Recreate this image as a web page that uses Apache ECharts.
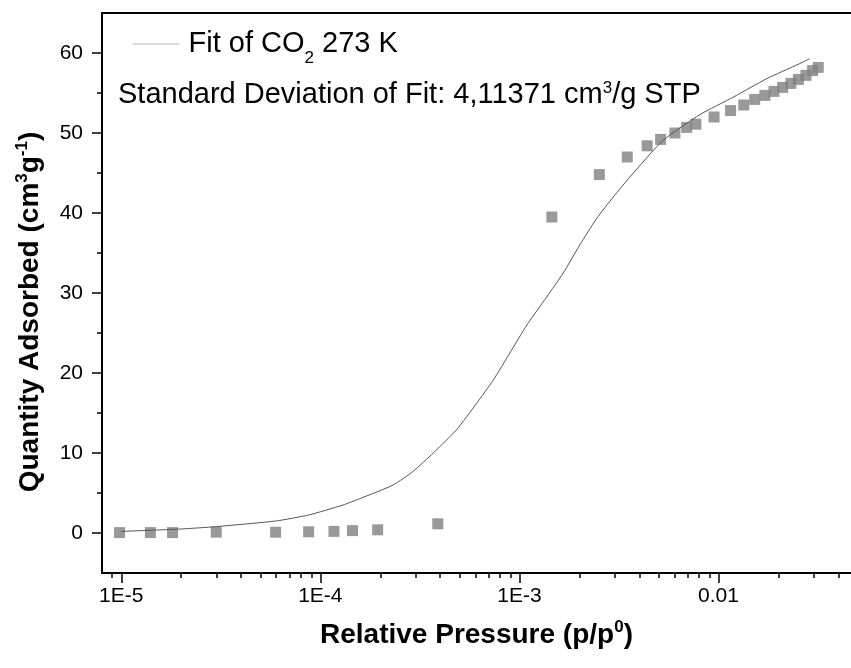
<!DOCTYPE html>
<html>
<head>
<meta charset="utf-8">
<script src="https://cdn.jsdelivr.net/npm/echarts@6/dist/echarts.min.js"></script>
<style>
  html, body { margin: 0; padding: 0; background: #fff; }
  #main { width: 851px; height: 668px; }
</style>
</head>
<body>
<div id="main"></div>
<script>
// measured points (p/p0, cm3/g)
var pointPressure = [9.8e-6, 1.40e-5, 1.81e-5, 3.0e-5, 5.96e-5, 8.73e-5, 1.17e-4, 1.45e-4, 1.94e-4, 3.89e-4,
    1.455e-3, 2.52e-3, 3.48e-3, 4.38e-3, 5.12e-3, 6.04e-3, 6.92e-3, 7.7e-3, 9.5e-3, 1.15e-2,
    1.34e-2, 1.52e-2, 1.71e-2, 1.90e-2, 2.10e-2, 2.31e-2, 2.52e-2, 2.75e-2, 2.97e-2, 3.17e-2];
var pointQuantity = [0.05, 0.05, 0.05, 0.1, 0.1, 0.15, 0.2, 0.3, 0.4, 1.15,
    39.5, 44.8, 47.0, 48.4, 49.2, 50.0, 50.7, 51.1, 52.0, 52.8,
    53.5, 54.2, 54.7, 55.2, 55.7, 56.2, 56.7, 57.2, 57.8, 58.2];

// fit curve
var fitPressure = [1.0e-5, 1.99e-5, 3.0e-5, 5.96e-5, 8.73e-5, 1.30e-4, 1.58e-4, 2.32e-4, 2.92e-4, 3.69e-4,
    4.83e-4, 6.09e-4, 7.38e-4, 8.95e-4, 1.09e-3, 1.37e-3, 1.66e-3, 2.01e-3, 2.44e-3, 2.96e-3,
    3.59e-3, 5.28e-3, 8.07e-3, 1.19e-2, 1.75e-2, 2.47e-2, 2.88e-2];
var fitQuantity = [0.2, 0.5, 0.8, 1.5, 2.25, 3.5, 4.3, 6.0, 7.7, 10.0,
    12.9, 16.2, 19.1, 22.5, 26.0, 29.5, 32.5, 36.0, 39.3, 42.0,
    44.5, 49.1, 52.3, 54.5, 56.8, 58.5, 59.3];

// axes
var xMin = 8e-6, xMax = 0.0463;
var xMajorTicks = [1e-5, 1e-4, 1e-3, 0.01];
var xTickLabels = ['1E-5', '1E-4', '1E-3', '0.01'];
var yMin = -5, yMax = 65;
var yMajorTicks = [0, 10, 20, 30, 40, 50, 60];
var yMinorTicks = [5, 15, 25, 35, 45, 55];

var fitName = 'Fit of CO2 273 K';
var FONT = '"Liberation Sans", Arial, sans-serif';

function lg(v) { return Math.log10(v); }

function xMinorTicks() {
    var out = [];
    for (var e = -6; e <= -1; e++) {
        for (var k = 2; k <= 9; k++) {
            var v = k * Math.pow(10, e);
            if (v > xMin && v < xMax) out.push(lg(v));
        }
    }
    return out;
}

var majorLogs = xMajorTicks.map(lg);

var myChart = echarts.init(document.getElementById('main'), null, { renderer: 'canvas' });

// rich text pieces for super/subscripts
var txt = { fontFamily: FONT, fontSize: 29, lineHeight: 30, color: '#000' };
var sup = { fontFamily: FONT, fontSize: 17, lineHeight: 14, verticalAlign: 'top', color: '#000' };
var sub = { fontFamily: FONT, fontSize: 17, lineHeight: 2, verticalAlign: 'top', padding: [21, 0, 0, 0], color: '#000' };
var bold = { fontFamily: FONT, fontSize: 28, fontWeight: 'bold', lineHeight: 32, color: '#000' };
var boldSup = { fontFamily: FONT, fontSize: 17, fontWeight: 'bold', lineHeight: 14, verticalAlign: 'top', color: '#000' };

var option = {
    animation: false,
    backgroundColor: '#fff',
    grid: { left: 102, right: 0, top: 13, bottom: 95 },
    legend: {
        left: 132, top: 29, padding: 0,
        data: [fitName],
        itemWidth: 47, itemHeight: 14, itemGap: 0,
        lineStyle: { color: '#b8b8b8', width: 1 },
        itemStyle: { opacity: 0 },
        formatter: function () { return '{sp|}{a|Fit of CO}{s|2}{a| 273 K}'; },
        textStyle: { rich: { a: txt, s: sub, sp: { width: 4 } } }
    },
    graphic: [{
        type: 'text', left: 118, top: 80,
        style: {
            text: '{a|Standard Deviation of Fit: 4,11371 cm}{u|3}{a|/g STP}',
            rich: { a: txt, u: sup }
        }
    }],
    xAxis: [{
        type: 'value', min: lg(xMin), max: lg(xMax), position: 'bottom',
        axisLine: { onZero: false, lineStyle: { color: '#000', width: 2 } },
        axisTick: { customValues: majorLogs, length: 10, lineStyle: { color: '#000', width: 1.5 } },
        axisLabel: {
            customValues: majorLogs, margin: 13, color: '#000', fontSize: 21, fontFamily: FONT,
            formatter: function (v) {
                for (var i = 0; i < majorLogs.length; i++) if (Math.abs(majorLogs[i] - v) < 1e-6) return xTickLabels[i];
                return '';
            }
        },
        splitLine: { show: false },
        name: '{b|Relative Pressure (p/p}{u|0}{b|)}',
        nameLocation: 'middle', nameGap: 46,
        nameTextStyle: { rich: { b: bold, u: boldSup } }
    }, {
        type: 'value', min: lg(xMin), max: lg(xMax), position: 'bottom',
        axisLine: { show: false, onZero: false },
        axisTick: { customValues: xMinorTicks(), length: 5, lineStyle: { color: '#000', width: 1.5 } },
        axisLabel: { show: false },
        splitLine: { show: false }
    }, {
        type: 'value', min: lg(xMin), max: lg(xMax), position: 'top',
        axisLine: { onZero: false, lineStyle: { color: '#000', width: 2 } },
        axisTick: { show: false }, axisLabel: { show: false }, splitLine: { show: false }
    }],
    yAxis: [{
        type: 'value', min: yMin, max: yMax, position: 'left',
        axisLine: { show: true, onZero: false, lineStyle: { color: '#000', width: 2 } },
        axisTick: { show: true, customValues: yMajorTicks, length: 10, lineStyle: { color: '#000', width: 1.5 } },
        axisLabel: { customValues: yMajorTicks, margin: 19, color: '#000', fontSize: 21, fontFamily: FONT },
        splitLine: { show: false },
        name: '{b|Quantity Adsorbed (cm}{u|3}{b|g}{u|-1}{b|)}{gap|}',
        nameLocation: 'middle', nameGap: 56,
        nameTextStyle: { rich: { b: bold, u: boldSup, gap: { width: 38 } } }
    }, {
        type: 'value', min: yMin, max: yMax, position: 'left',
        axisLine: { show: false, onZero: false },
        axisTick: { show: true, customValues: yMinorTicks, length: 5, lineStyle: { color: '#000', width: 1.5 } },
        axisLabel: { show: false },
        splitLine: { show: false }
    }],
    series: [{
        name: fitName, type: 'line', xAxisIndex: 0, yAxisIndex: 0,
        data: fitPressure.map(function (p, i) { return [lg(p), fitQuantity[i]]; }),
        symbol: 'none', smooth: 0.2,
        lineStyle: { color: '#555', width: 1 },
        itemStyle: { color: '#555' },
        z: 3
    }, {
        name: 'CO2 273 K', type: 'scatter', xAxisIndex: 0, yAxisIndex: 0,
        data: pointPressure.map(function (p, i) { return [lg(p), pointQuantity[i]]; }),
        symbol: 'rect', symbolSize: 11,
        itemStyle: { color: '#7f7f7f' },
        z: 2
    }]
};

myChart.setOption(option);
</script>
</body>
</html>
